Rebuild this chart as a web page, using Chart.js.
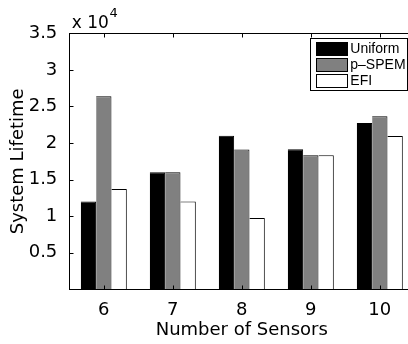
<!DOCTYPE html>
<html>
<head>
<meta charset="utf-8">
<script src="https://cdn.jsdelivr.net/npm/chart.js@4.4.1/dist/chart.umd.min.js"></script>
<style>
  html, body { margin: 0; padding: 0; background: #fff; overflow: hidden; }
  canvas { display: block; }
</style>
</head>
<body>
<canvas id="lifetimeChart" width="416" height="344"></canvas>
<script>
const sensorCounts = ["6", "7", "8", "9", "10"];
const seriesNames = ["Uniform", "p\u2013SPEM", "EFI"];
const uniform = [12000, 16000, 21000, 19150, 22750];
const pSpem = [26400, 16000, 19100, 18330, 23670];
const efi = [13700, 12000, 9750, 18330, 20970];
const seriesColors = ["#000000", "#808080", "#ffffff"];
const yMax = 35000;
const yStep = 5000;

const axisFont = { family: "'DejaVu Sans', sans-serif", size: 18 };

// box around the axes, inward ticks, exponent and the boxed legend (matlab look)
const matlabFrame = {
  id: "matlabFrame",
  afterDraw(chart) {
    const { ctx, chartArea: a, scales: { x, y } } = chart;
    const L = Math.round(a.left) + 0.5;
    const R = Math.round(a.right) + 0.5;
    const T = Math.round(a.top) + 0.5;
    const B = Math.round(a.bottom) + 0.5;

    ctx.save();
    ctx.strokeStyle = "#000";
    ctx.lineWidth = 1;
    ctx.strokeRect(L, T, R - L, B - T);

    ctx.beginPath();
    y.ticks.forEach(t => {
      if (t.value === 0 || t.value === yMax) return;
      const py = Math.round(y.getPixelForValue(t.value)) + 0.5;
      ctx.moveTo(L, py); ctx.lineTo(L + 4, py);
      ctx.moveTo(R, py); ctx.lineTo(R - 4, py);
    });
    x.ticks.forEach((t, i) => {
      const px = Math.round(x.getPixelForTick(i)) + 0.5;
      ctx.moveTo(px, T); ctx.lineTo(px, T + 4);
      ctx.moveTo(px, B); ctx.lineTo(px, B - 4);
    });
    ctx.stroke();

    // x 10^4
    ctx.fillStyle = "#000";
    ctx.textBaseline = "alphabetic";
    ctx.textAlign = "left";
    ctx.font = "17px 'DejaVu Sans'";
    ctx.fillText("x 10", a.left + 2.5, a.top - 5);
    const w = ctx.measureText("x 10").width;
    ctx.font = "13px 'DejaVu Sans'";
    ctx.fillText("4", a.left + 3 + w, a.top - 16.5);

    // legend
    const boxR = a.right - 7, boxT = a.top + 5;
    const boxW = 97, boxH = 52;
    const boxL = boxR - boxW;
    ctx.fillStyle = "#fff";
    ctx.fillRect(boxL, boxT, boxW, boxH);
    ctx.strokeRect(Math.round(boxL) + 0.5, Math.round(boxT) + 0.5, boxW, boxH);
    ctx.font = "14px 'Liberation Sans'";
    ctx.textBaseline = "middle";
    chart.data.datasets.forEach((ds, i) => {
      const cy = boxT + 10.5 + 16 * i;
      ctx.fillStyle = ds.backgroundColor;
      ctx.fillRect(boxL + 6, cy - 6.5, 31, 13);
      ctx.strokeRect(Math.round(boxL + 6) + 0.5, Math.round(cy - 6.5) + 0.5, 31, 13);
      ctx.fillStyle = "#000";
      ctx.fillText(ds.label, boxL + 40, cy + 0.5);
    });
    ctx.restore();
  }
};

const makeSet = (label, data, color) => ({
  label: label,
  data: data,
  backgroundColor: color,
  borderColor: "#000",
  borderWidth: { top: 1, right: 1, left: 0, bottom: 0 },
  borderSkipped: false,
  barPercentage: 1,
  categoryPercentage: 0.667
});

new Chart(document.getElementById("lifetimeChart"), {
  type: "bar",
  data: {
    labels: sensorCounts,
    datasets: [
      makeSet(seriesNames[0], uniform, seriesColors[0]),
      makeSet(seriesNames[1], pSpem, seriesColors[1]),
      makeSet(seriesNames[2], efi, seriesColors[2])
    ]
  },
  options: {
    responsive: false,
    animation: false,
    layout: { padding: { top: 33.3, left: 0, right: 1.7, bottom: 0 } },
    plugins: {
      legend: { display: false },
      tooltip: { enabled: false }
    },
    scales: {
      x: {
        grid: { display: false },
        border: { display: false },
        ticks: { color: "#000", font: axisFont, padding: 2, maxRotation: 0 },
        title: {
          display: true,
          text: "Number of Sensors",
          color: "#000",
          font: axisFont,
          padding: { top: 0, bottom: 3 }
        },
        afterFit: s => { s.height = 54.7; }
      },
      y: {
        min: 0,
        max: yMax,
        grid: { display: false },
        border: { display: false },
        ticks: {
          stepSize: yStep,
          color: "#000",
          font: axisFont,
          padding: 4,
          callback: v => (v === 0 ? "" : String(v / 10000))
        },
        title: {
          display: true,
          text: "System Lifetime",
          color: "#000",
          font: axisFont,
          padding: { top: 8, bottom: 0 }
        },
        afterFit: s => { s.width = 69.3; }
      }
    }
  },
  plugins: [matlabFrame]
});
</script>
</body>
</html>
